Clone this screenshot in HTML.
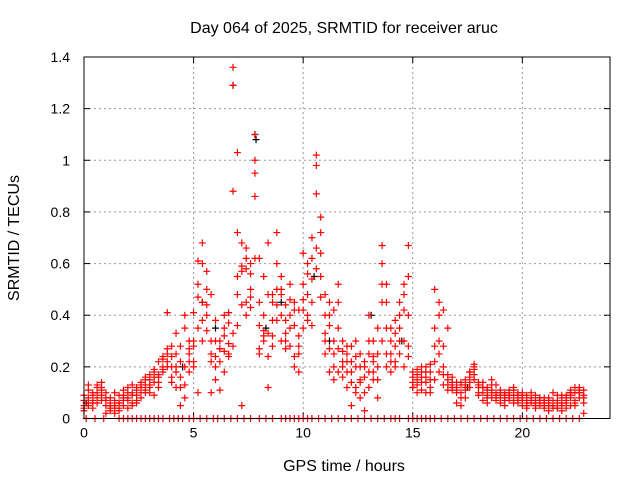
<!DOCTYPE html>
<html><head><meta charset="utf-8"><style>
body{margin:0;background:#fff}
svg{display:block;font-family:"Liberation Sans",sans-serif}
</style></head><body>
<svg id="chart" width="640" height="480" viewBox="0 0 640 480">
<rect width="640" height="480" fill="#fff"/>
<text x="344" y="33" text-anchor="middle" font-size="16">Day 064 of 2025, SRMTID for receiver aruc</text>
<text x="344" y="471" text-anchor="middle" font-size="16">GPS time / hours</text>
<text transform="translate(19,238) rotate(-90)" text-anchor="middle" font-size="16">SRMTID / TECUs</text>
<g id="grid"></g>
<g id="ticks"></g>
<g id="marks"></g>
<rect x="84" y="57" width="526" height="361.5" fill="none" stroke="#000" stroke-width="1"/>
</svg>
<script>
const xTicks=[0,5,10,15,20];
const yTicks=[0,0.2,0.4,0.6,0.8,1,1.2,1.4];
const yTickLabels=["0","0.2","0.4","0.6","0.8","1","1.2","1.4"];
const times=[0,0.2,0.4,0.6,0.8,1,1.2,1.4,1.6,1.8,2,2.2,2.4,2.6,2.8,3,3.2,3.4,3.6,3.8,4,4.2,4.4,4.6,4.8,5,5.2,5.4,5.6,5.8,6,6.2,6.4,6.6,6.8,7,7.2,7.4,7.6,7.8,8,8.2,8.4,8.6,8.8,9,9.2,9.4,9.6,9.8,10,10.2,10.4,10.6,10.8,11,11.2,11.4,11.6,11.8,12,12.2,12.4,12.6,12.8,13,13.2,13.4,13.6,13.8,14,14.2,14.4,14.6,14.8,15,15.2,15.4,15.6,15.8,16,16.2,16.4,16.6,16.8,17,17.2,17.4,17.6,17.8,18,18.2,18.4,18.6,18.8,19,19.2,19.4,19.6,19.8,20,20.2,20.4,20.6,20.8,21,21.2,21.4,21.6,21.8,22,22.2,22.4,22.6,22.8];
const seriesA=[.05,.08,.07,.10,.12,.05,.03,.07,.04,.08,.07,.10,.09,.12,.13,.15,.14,.17,.18,.22,.20,.18,.22,.35,.27,.41,.61,.68,.50,.25,.24,.30,.18,.37,.88,1.03,.59,.66,.47,1.10,.62,.30,.68,.32,.50,.55,.38,.28,.45,.42,.64,.56,.45,1.02,.78,.40,.36,.25,.52,.30,.22,.28,.30,.08,.20,.25,.18,.35,.67,.52,.30,.28,.40,.52,.67,.18,.15,.20,.14,.18,.50,.30,.42,.17,.14,.12,.14,.08,.16,.20,.10,.14,.12,.08,.10,.10,.08,.07,.11,.09,.08,.07,.06,.09,.05,.06,.05,.07,.04,.06,.06,.08,.07,.10,.09];
const seriesB=[.03,.05,.09,.06,.14,.08,.06,.02,.09,.05,.04,.06,.12,.08,.15,.12,.18,.16,.20,.25,.14,.25,.16,.40,.30,.30,.52,.45,.57,.48,.15,.11,.26,.29,1.29,.72,.44,.62,.60,1.00,.45,.34,.12,.38,.72,.30,.44,.40,.24,.32,.42,.60,.36,.87,.72,.48,.18,.42,.27,.20,.12,.18,.24,.15,.03,.12,.30,.20,.60,.45,.22,.38,.25,.48,.55,.12,.19,.11,.16,.21,.22,.45,.20,.35,.12,.06,.10,.13,.18,.15,.13,.07,.11,.15,.09,.06,.09,.11,.07,.10,.05,.09,.08,.04,.07,.08,.03,.05,.09,.05,.09,.05,.10,.12,.08];
const seriesC=[.07,.11,.04,.12,.09,.02,.04,.10,.06,.11,.10,.13,.07,.14,.11,.10,.09,.22,.24,.41,.28,.12,.05,.20,.18,.22,.10,.38,.34,.10,.38,.27,.32,.41,1.36,.36,.05,.58,.43,.86,.25,.55,.24,.48,.60,.48,.27,.52,.36,.18,.52,.38,.70,.98,.55,.30,.45,.15,.35,.16,.28,.05,.20,.25,.10,.40,.22,.08,.30,.25,.18,.20,.35,.42,.28,.14,.10,.16,.20,.12,.15,.18,.28,.13,.16,.11,.05,.15,.12,.21,.09,.12,.06,.10,.13,.08,.05,.09,.12,.07,.10,.04,.07,.06,.08,.04,.07,.10,.06,.03,.04,.11,.06,.08,.02];
const seriesD=[.09,.13,.06,.08,.11,.07,.05,.04,.06,.09,.08,.05,.11,.10,.16,.13,.19,.14,.23,.20,.24,.33,.12,.08,.22,.28,.47,.60,.44,.30,.20,.27,.35,.24,.33,.48,.57,.40,.50,.95,.36,.32,.48,.28,.44,.50,.33,.46,.20,.28,.35,.48,.62,.58,.64,.33,.27,.20,.45,.22,.25,.14,.12,.20,.16,.18,.24,.15,.52,.35,.25,.33,.30,.20,.40,.16,.13,.18,.10,.15,.35,.25,.13,.15,.11,.10,.13,.11,.14,.17,.12,.10,.08,.13,.07,.09,.07,.10,.06,.08,.07,.06,.10,.05,.07,.05,.08,.04,.07,.09,.07,.10,.05,.11,.06];
const seriesE=[.04,.06,.10,.13,.07,.10,.08,.05,.03,.07,.12,.09,.06,.13,.10,.17,.16,.12,.19,.27,.16,.20,.28,.13,.25,.20,.35,.30,.40,.22,.30,.22,.40,.25,.28,.55,.68,.45,.56,.62,.27,.40,.33,.45,.38,.40,.30,.35,.42,.25,.46,.40,.54,.66,.47,.25,.40,.30,.18,.26,.18,.22,.10,.14,.22,.30,.15,.25,.45,.20,.35,.22,.45,.30,.24,.12,.17,.14,.18,.10,.28,.40,.17,.11,.13,.14,.08,.12,.18,.19,.14,.12,.09,.11,.08,.11,.10,.08,.09,.06,.09,.05,.08,.07,.06,.07,.06,.05,.04,.08,.08,.09,.12,.10,.11];
const zeroTimes=[0.1,0.5,0.9,1.6,1.8,2.0,2.2,2.4,2.6,2.8,3.0,3.2,3.4,3.6,3.9,4.1,4.3,4.5,4.8,5.0,5.3,5.6,5.9,6.1,6.4,6.7,7.0,7.3,7.6,8.0,8.3,8.6,9.0,9.2,9.4,9.6,9.8,10.0,10.2,10.4,10.7,11.0,11.3,11.6,11.9,12.2,12.5,12.8,13.1,13.4,13.7,14.0,14.2,14.4,14.8,15.0,15.2,15.4,15.6,15.8,16.0,16.3,16.6,16.9,17.2,17.5,17.8,18.1,18.4,18.7,19.0,19.3,19.6,19.9,20.2,20.5,20.8,21.1,21.4,21.7,22.0,22.3,22.6];
const blackTimes=[0.1,4.5,5.4,6.0,6.8,7.8,7.85,8.3,9.0,10.5,11.2,13.1,14.5,17.5,20.8,22.2];
const blackValues=[0.06,0.2,0.45,0.35,1.29,1.1,1.08,0.35,0.45,0.55,0.3,0.4,0.3,0.12,0.08,0.1];

const X0=84,X1=610,Y0=418.5,Y1=57;
function xs(v){return X0+v/24*(X1-X0);}
function ys(v){return Y0-v/1.4*(Y0-Y1);}
const NS='http://www.w3.org/2000/svg';
const grid=document.getElementById('grid'),ticks=document.getElementById('ticks'),marks=document.getElementById('marks');
function mk(tag,attrs,parent){const e=document.createElementNS(NS,tag);for(const k in attrs)e.setAttribute(k,attrs[k]);parent.appendChild(e);return e;}
xTicks.forEach(t=>{
  const x=xs(t);
  if(t>0){const g=mk('line',{x1:x,x2:x,y1:Y1,y2:Y0,stroke:'#999','stroke-dasharray':'2,3'},grid);
  
  }
  mk('line',{x1:x,x2:x,y1:Y0,y2:Y0-6,stroke:'#000'},ticks);
  mk('line',{x1:x,x2:x,y1:Y1,y2:Y1+6,stroke:'#000'},ticks);
  const l=mk('text',{x:x,y:Y0+19,'text-anchor':'middle','font-size':'14'},ticks);
  l.textContent=t;
  
  
});
yTicks.forEach((t,i)=>{
  const y=ys(t);
  if(t>0&&t<1.4){const g=mk('line',{x1:X0,x2:X1,y1:y,y2:y,stroke:'#999','stroke-dasharray':'2,3'},grid);
  
  }
  mk('line',{x1:X0,x2:X0+6,y1:y,y2:y,stroke:'#000'},ticks);
  mk('line',{x1:X1,x2:X1-6,y1:y,y2:y,stroke:'#000'},ticks);
  const l=mk('text',{x:X0-14,y:y+5,'text-anchor':'end','font-size':'14'},ticks);
  l.textContent=yTickLabels[i];
  
  
});
function plus(t,v,color,name){
  const x=xs(t),y=ys(v);
  const p=mk('path',{d:`M${x-3.5},${y}h7M${x},${y-3.5}v7`,stroke:color,'stroke-width':'1.2',fill:'none'},marks);
  
  
}
blackTimes.forEach((t,i)=>plus(t,blackValues[i],'#000','black-point'));
[seriesA,seriesB,seriesC,seriesD,seriesE].forEach(s=>times.forEach((t,i)=>plus(t,s[i],'#f00','red-point')));
zeroTimes.forEach(t=>plus(t,0,'#f00','zero-point'));
</script>
</body></html>
